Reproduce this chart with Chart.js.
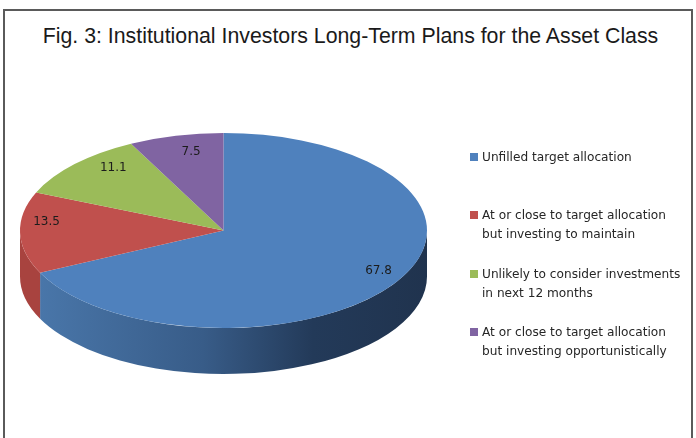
<!DOCTYPE html>
<html>
<head>
<meta charset="utf-8">
<title>Fig. 3</title>
<script src="https://cdn.jsdelivr.net/npm/chart.js@4"></script>
<style>
    html, body { margin: 0; padding: 0; background: #fff; }
    #page { position: relative; width: 696px; height: 438px; overflow: hidden; }
    #frame { position: absolute; left: 3px; top: 9px; width: 686px; height: 440px; border: 2px solid #5a5a5a; }
    #title { position: absolute; left: 0; top: 23px; width: 701px; text-align: center; color: #1a1a1a;
             font: 21.3px "Liberation Sans", Arial, sans-serif; line-height: 26px; }
    #chart { position: absolute; left: 0; top: 0; }
    #legend { position: absolute; left: 0; top: 0; font: 12.15px "DejaVu Sans", sans-serif; color: #262626; }
    .item { position: absolute; left: 482px; line-height: 18.5px; white-space: nowrap; }
    .swatch { position: absolute; left: -12px; top: 5px; width: 8px; height: 8px; }
</style>
</head>
<body>
<div id="page">
    <div id="frame"></div>
    <div id="title">Fig. 3: Institutional Investors Long-Term Plans for the Asset Class</div>
    <canvas id="chart" width="696" height="438"></canvas>
    <div id="legend"></div>
</div>
<script>
// Chart data
const categories = [
    ['Unfilled target allocation'],
    ['At or close to target allocation', 'but investing to maintain'],
    ['Unlikely to consider investments', 'in next 12 months'],
    ['At or close to target allocation', 'but investing opportunistically']
];
const shares = [67.8, 13.5, 11.1, 7.5];
const sliceColors = ['#4f81bd', '#c0504d', '#9bbb59', '#8064a2'];

// Look of the tilted pie
const TILT = 97.5 / 203.5;
const DEPTH = 46;
const LABEL_REACH = [0.9, 0.87, 0.74, 0.68];
const LABEL_LIFT = [-6, -11, -13, -14];
const LEGEND_TOPS = [148, 206, 265, 323];

// Squash the flat pie into an ellipse around its centre
const tiltPlugin = {
    id: 'tilt',
    beforeDatasetsDraw(chart) {
        const ctx = chart.ctx;
        const arcs = chart.getDatasetMeta(0).data;
        arcs.forEach((arc, i) => {
            // Only the front half of the rim can be seen
            const from = Math.max(arc.startAngle, 0);
            const to = Math.min(arc.endAngle, Math.PI);
            if (to <= from) return;
            const rx = arc.outerRadius;
            const ry = rx * TILT;
            const side = ctx.createLinearGradient(arc.x - rx, 0, arc.x + rx, 0);
            if (i === 0) {
                side.addColorStop(0, '#4b79ad');
                side.addColorStop(0.45, '#385c88');
                side.addColorStop(0.72, '#233a59');
                side.addColorStop(1, '#20334e');
            } else {
                side.addColorStop(0, '#a8433f');
                side.addColorStop(1, '#a8433f');
            }
            ctx.save();
            ctx.fillStyle = side;
            ctx.beginPath();
            ctx.ellipse(arc.x, arc.y, rx, ry, 0, from, to);
            ctx.ellipse(arc.x, arc.y + DEPTH, rx, ry, 0, to, from, true);
            ctx.closePath();
            ctx.fill();
            ctx.restore();
        });
    },
    beforeDatasetDraw(chart) {
        const ctx = chart.ctx;
        const cy = chart.getDatasetMeta(0).data[0].y;
        ctx.save();
        ctx.translate(0, cy);
        ctx.scale(1, TILT);
        ctx.translate(0, -cy);
    },
    afterDatasetDraw(chart) {
        chart.ctx.restore();
    },
    afterDatasetsDraw(chart) {
        const ctx = chart.ctx;
        ctx.save();
        ctx.font = '12px "DejaVu Sans", sans-serif';
        ctx.fillStyle = '#1c1c1c';
        ctx.textAlign = 'center';
        ctx.textBaseline = 'middle';
        chart.getDatasetMeta(0).data.forEach((arc, i) => {
            const mid = (arc.startAngle + arc.endAngle) / 2;
            const reach = arc.outerRadius * LABEL_REACH[i];
            const x = arc.x + Math.cos(mid) * reach;
            const y = arc.y + Math.sin(mid) * reach * TILT + LABEL_LIFT[i];
            ctx.fillText(shares[i].toFixed(1), x, y);
        });
        ctx.restore();
    }
};

new Chart(document.getElementById('chart'), {
    type: 'pie',
    data: {
        labels: categories.map(c => c.join(' ')),
        datasets: [{
            data: shares,
            backgroundColor: sliceColors,
            borderWidth: 0
        }]
    },
    options: {
        responsive: false,
        animation: false,
        layout: {
            padding: { left: 20, right: 269, top: 27, bottom: 4 }
        },
        plugins: {
            legend: { display: false },
            tooltip: { enabled: false }
        }
    },
    plugins: [tiltPlugin]
});

// Legend sits beside the pie with hand-broken lines
const legendBox = document.getElementById('legend');
categories.forEach((lines, i) => {
    const item = document.createElement('div');
    item.className = 'item';
    item.style.top = LEGEND_TOPS[i] + 'px';
    const swatch = document.createElement('span');
    swatch.className = 'swatch';
    swatch.style.background = sliceColors[i];
    item.appendChild(swatch);
    lines.forEach((line, n) => {
        if (n > 0) item.appendChild(document.createElement('br'));
        item.appendChild(document.createTextNode(line));
    });
    legendBox.appendChild(item);
});
</script>
</body>
</html>
